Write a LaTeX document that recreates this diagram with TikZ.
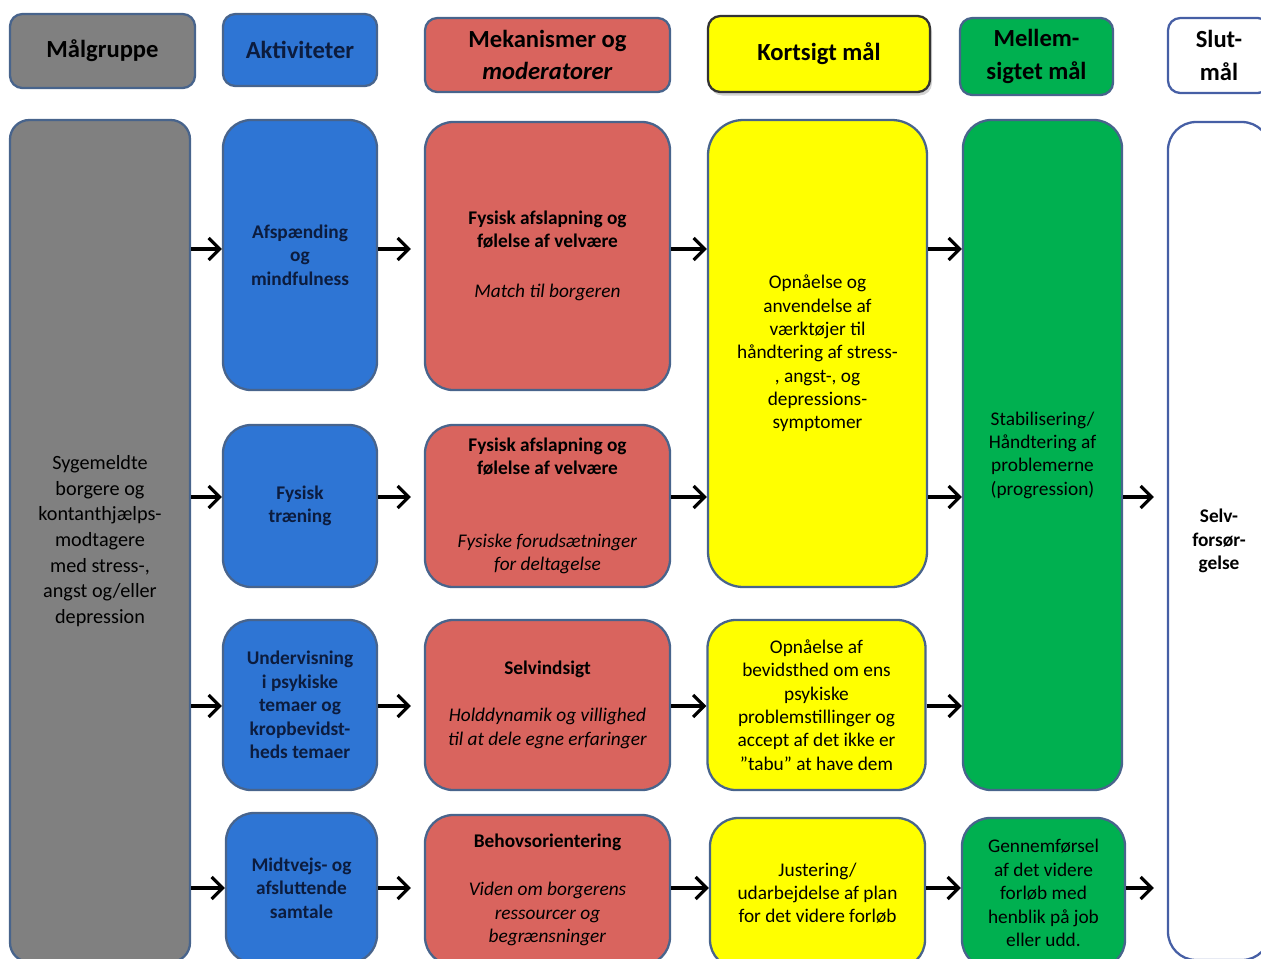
\documentclass[tikz,border=0pt]{standalone}
\usepackage{fontspec}
\setmainfont{Carlito}
\usetikzlibrary{arrows.meta,shadows}
\definecolor{GroupGray}{RGB}{128,128,128}
\definecolor{ActBlue}{RGB}{46,117,212}
\definecolor{MechRed}{RGB}{217,100,94}
\definecolor{ShortYellow}{RGB}{255,255,0}
\definecolor{MidGreen}{RGB}{0,176,80}
\definecolor{EdgeBlue}{RGB}{72,100,140}
\definecolor{EndBlue}{RGB}{70,95,165}
\definecolor{TextNavy}{RGB}{12,28,62}

\begin{document}
\begin{tikzpicture}[
    head/.style={rectangle, draw=EdgeBlue, line width=1.3pt, inner sep=0pt, rounded corners=7pt, align=center, font=\fontsize{14}{18.5}\selectfont\bfseries},
    body/.style={rectangle, draw=EdgeBlue, line width=1.3pt, inner sep=0pt, rounded corners=16pt, align=center, font=\fontsize{11}{13.3}\selectfont},
    actbox/.style={body, fill=ActBlue, text=TextNavy, font=\fontsize{11}{13.3}\selectfont\bfseries, minimum width=3.08cm},
    mechbox/.style={body, fill=MechRed, minimum width=4.9cm},
    shortbox/.style={body, fill=ShortYellow, minimum width=4.36cm},
    midbox/.style={body, fill=MidGreen},
    arrow/.style={-{Straight Barb[length=2.2mm, width=4.4mm]}, line width=1.8pt, black}
]
\useasboundingbox (0,0) rectangle (25.22,-19.16);

% Header row
\node[head, fill=GroupGray, minimum width=3.7cm, minimum height=1.48cm] (hgroup) at (2.05,-1.02) {Målgruppe};
\node[head, fill=ActBlue, text=TextNavy, minimum width=3.08cm, minimum height=1.44cm] (hact) at (6.0,-1.0) {Aktiviteter};
\node[head, fill=MechRed, minimum width=4.9cm, minimum height=1.48cm] (hmech) at (10.95,-1.10) {Mekanismer og\\\textit{moderatorer}};
\node[head, fill=ShortYellow, draw=black!80, drop shadow={shadow xshift=0.4mm, shadow yshift=-0.7mm, opacity=0.35}, minimum width=4.44cm, minimum height=1.52cm] (hshort) at (16.38,-1.08) {Kortsigt mål};
\node[head, fill=MidGreen, minimum width=3.06cm, minimum height=1.54cm] (hmid) at (20.73,-1.13) {Mellem-\\sigtet mål};
\node[head, fill=white, draw=EndBlue, minimum width=2.04cm, minimum height=1.5cm] (hend) at (24.38,-1.11) {Slut-\\mål};

% Row heights for the connectors
\coordinate (r1) at (0,-4.98);
\coordinate (r2) at (0,-9.94);
\coordinate (r3) at (0,-14.12);
\coordinate (r4) at (0,-17.76);

% Target group
\node[body, fill=GroupGray, rounded corners=11pt, font=\fontsize{11.5}{14.6}\selectfont, minimum width=3.6cm, minimum height=16.84cm] (group) at (2.0,-10.82)
  {Sygemeldte\\borgere og\\kontanthjælps-\\modtagere\\med stress-,\\angst og/eller\\depression};

% Activities
\node[actbox, minimum height=5.4cm] (act1) at (6.0,-5.10) {Afspænding\\og\\mindfulness};
\node[actbox, minimum height=3.24cm] (act2) at (6.0,-10.12) {Fysisk\\træning};
\node[actbox, minimum height=3.4cm] (act3) at (6.0,-14.1) {Undervisning\\i psykiske\\temaer og\\kropbevidst-\\heds temaer};
\node[actbox, minimum width=3.02cm, minimum height=3.0cm] (act4) at (6.03,-17.76) {Midtvejs- og\\afsluttende\\samtale};

% Mechanisms and moderators
\node[mechbox, minimum height=5.36cm] (mech1) at (10.95,-5.12)
  {\textbf{Fysisk afslapning og}\\\textbf{følelse af velvære}\\[15pt]\textit{Match til borgeren}};
\node[mechbox, minimum height=3.24cm] (mech2) at (10.95,-10.12)
  {\textbf{Fysisk afslapning og}\\\textbf{følelse af velvære}\\[28pt]\textit{Fysiske forudsætninger}\\\textit{for deltagelse}};
\node[mechbox, minimum height=3.4cm] (mech3) at (10.95,-14.1)
  {\textbf{Selvindsigt}\\[13.5pt]\textit{Holddynamik og villighed}\\\textit{til at dele egne erfaringer}};
\node[mechbox, minimum height=3.0cm] (mech4) at (10.95,-17.8)
  {\textbf{Behovsorientering}\\[14pt]\textit{Viden om borgerens}\\\textit{ressourcer og}\\\textit{begrænsninger}};

% Short term goals
\node[shortbox, rounded corners=20pt, minimum width=4.38cm, minimum height=9.34cm] (short1) at (16.35,-7.07)
  {Opnåelse og\\anvendelse af\\værktøjer til\\håndtering af stress-\\, angst-, og\\depressions-\\symptomer};
\node[shortbox, minimum height=3.4cm] (short2) at (16.33,-14.1)
  {Opnåelse af\\bevidsthed om ens\\psykiske\\problemstillinger og\\accept af det ikke er\\”tabu” at have dem};
\node[shortbox, minimum width=4.3cm, minimum height=3.0cm] (short3) at (16.35,-17.86)
  {Justering/\\udarbejdelse af plan\\for det videre forløb};

% Medium term goals
\node[midbox, minimum width=3.18cm, minimum height=13.4cm] (mid1) at (20.85,-9.1)
  {Stabilisering/\\Håndtering af\\problemerne\\(progression)};
\node[midbox, minimum width=3.26cm, minimum height=3.0cm] (mid2) at (20.87,-17.86)
  {Gennemførsel\\af det videre\\forløb med\\henblik på job\\eller udd.};

% Final goal
\node[body, fill=white, draw=EndBlue, font=\fontsize{11}{13.3}\selectfont\bfseries, minimum width=2.04cm, minimum height=16.76cm] (endbox) at (24.38,-10.82)
  {Selv-\\forsør-\\gelse};

% Arrows
\draw[arrow] (group.east |- r1) -- (act1.west |- r1);
\draw[arrow] (group.east |- r2) -- (act2.west |- r2);
\draw[arrow] (group.east |- r3) -- (act3.west |- r3);
\draw[arrow] (group.east |- r4) -- (act4.west |- r4);
\draw[arrow, shorten >=0.26cm] (act1.east |- r1) -- (mech1.west |- r1);
\draw[arrow, shorten >=0.26cm] (act2.east |- r2) -- (mech2.west |- r2);
\draw[arrow, shorten >=0.26cm] (act3.east |- r3) -- (mech3.west |- r3);
\draw[arrow, shorten >=0.26cm] (act4.east |- r4) -- (mech4.west |- r4);
\draw[arrow] (mech1.east |- r1) -- (short1.west |- r1);
\draw[arrow] (mech2.east |- r2) -- (short1.west |- r2);
\draw[arrow] (mech3.east |- r3) -- (short2.west |- r3);
\draw[arrow] (mech4.east |- r4) -- (short3.west |- r4);
\draw[arrow] (short1.east |- r1) -- (mid1.west |- r1);
\draw[arrow] (short1.east |- r2) -- (mid1.west |- r2);
\draw[arrow] (short2.east |- r3) -- (mid1.west |- r3);
\draw[arrow] (short3.east |- r4) -- (mid2.west |- r4);
\draw[arrow, shorten >=0.26cm] (mid1.east |- r2) -- (endbox.west |- r2);
\draw[arrow, shorten >=0.26cm] (mid2.east |- r4) -- (endbox.west |- r4);

\end{tikzpicture}
\end{document}
